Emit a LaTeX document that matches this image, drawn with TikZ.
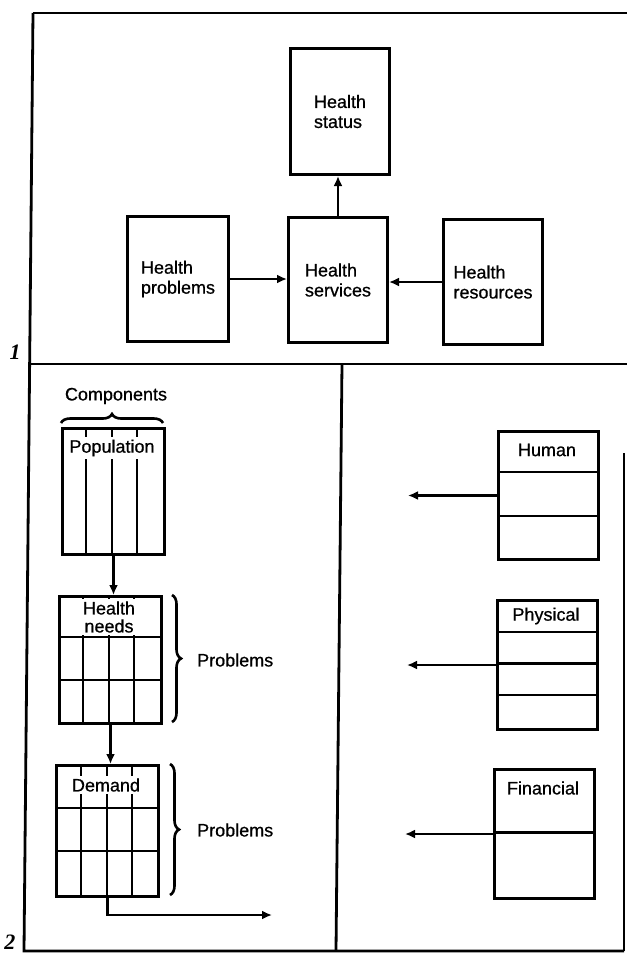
\documentclass[tikz,border=0pt]{standalone}
\usepackage{fontspec}
\setmainfont{Liberation Sans}[FakeBold=0.7]
\newfontfamily\numfont{Liberation Serif}
\usetikzlibrary{arrows.meta,calc,positioning,decorations.pathreplacing}

\begin{document}
\begin{tikzpicture}[x=1pt,y=-1pt,>={Latex[length=10pt,width=9pt]},
    box/.style={draw,line width=3pt,inner sep=0pt,anchor=north west,
      font=\fontsize{18}{20}\selectfont,align=left},
    rule/.style={line width=2.8pt},
    link/.style={->,line width=2.8pt},
    txt/.style={font=\fontsize{18}{19}\selectfont,align=center,inner sep=1pt},
    brc/.style={decorate,decoration={brace,amplitude=9pt,aspect=0.5},line width=2.6pt}]
  \useasboundingbox (0,0) rectangle (627,954);

  % frame
  \draw[rule] (33,13) -- (627,13);
  \draw[rule] (33,13) -- (24,951) -- (624,951);
  \draw[rule] (31,364) -- (627,364);
  \draw[rule] (342,364) -- (336,951);
  \draw[rule] (624,453) -- (624,951);
  \node[font=\numfont\bfseries\itshape\fontsize{22}{22}\selectfont] (one) at (15,352) {1};
  \node[font=\numfont\bfseries\itshape\fontsize{22}{22}\selectfont] (two) at (10,942) {2};

  % part 1
  \node[box,minimum width=99pt,minimum height=126pt] (status) at (289,47) {Health\\status};
  \node[box,minimum width=101pt,minimum height=125pt] (problems) at (126,215) {Health\\problems};
  \node[box,minimum width=99pt,minimum height=125pt] (services) at (287,216) {Health\\services};
  \node[box,minimum width=99pt,minimum height=125pt] (resources) at (442,218) {Health\\resources};
  \draw[link] (problems.east) -- (problems.east -| services.west);
  \draw[link] (resources.west) -- (resources.west -| services.east);
  \draw[link] (services.north) -- (services.north |- status.south);

  % part 2, left
  \node[box,minimum width=102pt,minimum height=126pt] (pop) at (61,427) {};
  \foreach \x in {86,112,137} \draw[rule] (\x,427) -- (\x,553);
  \node[txt,fill=white,inner ysep=3pt] (poptxt) at (112,448) {Population};
  \draw[brc] (61,423) -- (163,423);
  \node[txt] (comp) at (116,396) {Components};

  \node[box,minimum width=102pt,minimum height=127pt] (needs) at (58,595) {};
  \draw[rule] (58,637) -- (160,637);
  \draw[rule] (58,680) -- (160,680);
  \foreach \x in {83,109,134} \draw[rule] (\x,595) -- (\x,722);
  \node[txt,fill=white,font=\fontsize{18}{18}\selectfont,inner xsep=4pt,inner ysep=2pt] (needstxt) at (109,617) {Health\\needs};
  \draw[brc] (172,595) -- (172,722);
  \node[txt,anchor=west] (prob1) at (196,660) {Problems};

  \node[box,minimum width=102pt,minimum height=131pt] (demand) at (55,764) {};
  \draw[rule] (55,808) -- (157,808);
  \draw[rule] (55,851) -- (157,851);
  \foreach \x in {81,107,132} \draw[rule] (\x,764) -- (\x,895);
  \node[txt,fill=white,inner ysep=2pt] (demandtxt) at (106,785) {Demand};
  \draw[brc] (170,764) -- (170,895);
  \node[txt,anchor=west] (prob2) at (196,830) {Problems};

  \draw[link] (pop.south) -- (pop.south |- needs.north);
  \draw[link] (needs.south) -- (needs.south |- demand.north);
  \coordinate (out) at (272,915);
  \draw[link] (demand.south) |- (out);

  % part 2, right
  \node[box,minimum width=100pt,minimum height=128pt] (human) at (497,430) {};
  \node[txt] (humantxt) at (547,450) {Human};
  \draw[rule] (497,472) -- (597,472);
  \draw[rule] (497,516) -- (597,516);
  \coordinate[left=89pt of human.west] (humanout);
  \draw[link] (human.west) -- (humanout);

  \node[box,minimum width=100pt,minimum height=129pt] (phys) at (496,599) {};
  \node[txt] (physttxt) at (546,616) {Physical};
  \draw[rule] (496,632) -- (596,632);
  \draw[rule] (496,663.5) -- (596,663.5);
  \draw[rule] (496,695) -- (596,695);
  \coordinate[left=89pt of phys.west] (physout);
  \draw[link] (phys.west) -- (physout);

  \node[box,minimum width=100pt,minimum height=129pt] (fin) at (493,768) {};
  \node[txt] (fintxt) at (543,788) {Financial};
  \draw[rule] (493,832.5) -- (593,832.5);
  \coordinate[left=88pt of fin.west] (finout);
  \draw[link] (fin.west) -- (finout);
\end{tikzpicture}
\end{document}
